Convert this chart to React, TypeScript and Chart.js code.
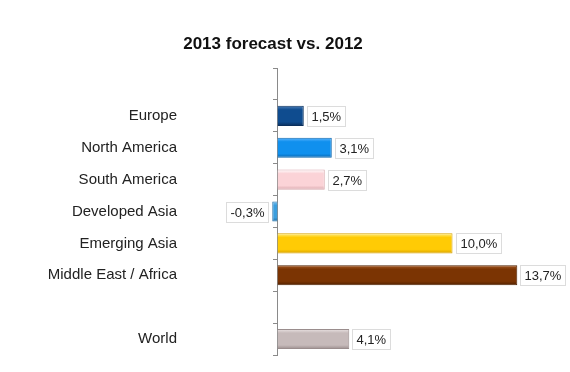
import React, { useEffect, useRef } from "react";
import { Chart, registerables } from "chart.js";

Chart.register(...registerables);

const categories = [" ", "Europe", "North America", "South America", "Developed Asia", "Emerging Asia", "Middle East / Africa", "  ", "World"];
const values: (number | null)[] = [null, 1.5, 3.1, 2.7, -0.3, 10.0, 13.7, null, 4.1];
const barColors = ["#ffffff", "#0f4c8f", "#1090ee", "#fbd3d7", "#3a9ede", "#ffcb05", "#7b3403", "#ffffff", "#c6baba"];
const barBorders = ["#ffffff", "#0a2f5c", "#0a65ad", "#d9a9ae", "#1f6fa8", "#d9a300", "#4f2000", "#ffffff", "#9a8d8d"];
const barTops = ["#ffffff", "#4d7fb8", "#62b8ff", "#ffffff", "#7cc0ee", "#fff08a", "#a65a25", "#ffffff", "#ebe4e4"];

const fmt = (v: number) => v.toFixed(1).replace(".", ",") + "%";
const FONT = '"Liberation Sans", Arial, sans-serif';

const valueLabelPlugin = {
  id: "valueLabels",
  afterDatasetsDraw(chart: any) {
    const ctx = chart.ctx;
    const meta = chart.getDatasetMeta(0);
    ctx.save();
    ctx.font = "13px " + FONT;
    ctx.textBaseline = "middle";
    ctx.textAlign = "left";
    meta.data.forEach((bar: any, i: number) => {
      const v = values[i];
      if (v === null || v === undefined) return;
      const text = fmt(v);
      const w = Math.round(ctx.measureText(text).width + 8);
      const h = 20;
      const x = Math.round(v >= 0 ? bar.x + 3 : bar.x - 4 - w);
      const y = Math.round(bar.y - h / 2);
      ctx.fillStyle = "#ffffff";
      ctx.fillRect(x + 0.5, y + 0.5, w, h);
      ctx.strokeStyle = "#dcdcdc";
      ctx.lineWidth = 1;
      ctx.strokeRect(x + 0.5, y + 0.5, w, h);
      ctx.fillStyle = "#222222";
      ctx.fillText(text, x + 4.5, y + h / 2 + 1);
    });
    ctx.restore();
  },
};

export default function App() {
  const ref = useRef<HTMLCanvasElement>(null);
  useEffect(() => {
    document.body.style.margin = "0";
    if (!ref.current) return;
    const chart = new Chart(ref.current, {
      type: "bar",
      data: {
        labels: categories,
        datasets: [
          {
            data: values as any,
            backgroundColor: (c: any) => {
              const i = c.dataIndex ?? 0;
              const ys = c.chart.scales?.y;
              if (!ys) return barColors[i];
              const yc = ys.getPixelForValue(i);
              if (!Number.isFinite(yc)) return barColors[i];
              const g = c.chart.ctx.createLinearGradient(0, yc - 10, 0, yc + 10);
              g.addColorStop(0, barTops[i]);
              g.addColorStop(0.2, barColors[i]);
              g.addColorStop(0.8, barColors[i]);
              g.addColorStop(1, barBorders[i]);
              return g;
            },
            borderColor: barBorders,
            borderWidth: 1,
            categoryPercentage: 1,
            barPercentage: 0.63,
            yAxisID: "y",
          },
        ],
      },
      options: {
        indexAxis: "y",
        animation: false,
        responsive: false,
        devicePixelRatio: 1,
        layout: { padding: { left: 0, right: 24, top: 0, bottom: 17 } },
        plugins: {
          legend: { display: false },
          tooltip: { enabled: false },
          title: {
            display: true,
            text: "2013 forecast vs. 2012",
            color: "#111111",
            font: { size: 17, weight: "bold", family: FONT, lineHeight: 1.2 },
            padding: { top: 34, bottom: 13.6 },
          },
        },
        scales: {
          x: {
            type: "linear",
            display: false,
            min: -5,
            max: 15.34,
            grid: { display: false },
          },
          y: {
            type: "category",
            position: "left",
            offset: true,
            grid: { display: false, drawTicks: false, offset: true },
            border: { display: false },
            ticks: { color: "#222222", font: { size: 15, family: FONT }, padding: 13 },
            afterFit: (s: any) => {
              s.width = 190;
              s.paddingTop = 0;
              s.paddingBottom = 0;
            },
          },
          y2: {
            type: "category",
            position: { x: 0 } as any,
            offset: true,
            grid: { display: true, drawOnChartArea: false, drawTicks: true, tickLength: 4, offset: true, color: "#8a8a8a", lineWidth: 1 },
            border: { display: true, color: "#8a8a8a", width: 1 },
            ticks: { display: false },
            afterFit: (s: any) => {
              s.width = 0;
              s.paddingTop = 0;
              s.paddingBottom = 0;
            },
          },
        },
      },
      plugins: [valueLabelPlugin],
    });
    return () => chart.destroy();
  }, []);
  return (
    <div style={{ width: 570, height: 372 }}>
      <canvas ref={ref} width={570} height={372} />
    </div>
  );
}
